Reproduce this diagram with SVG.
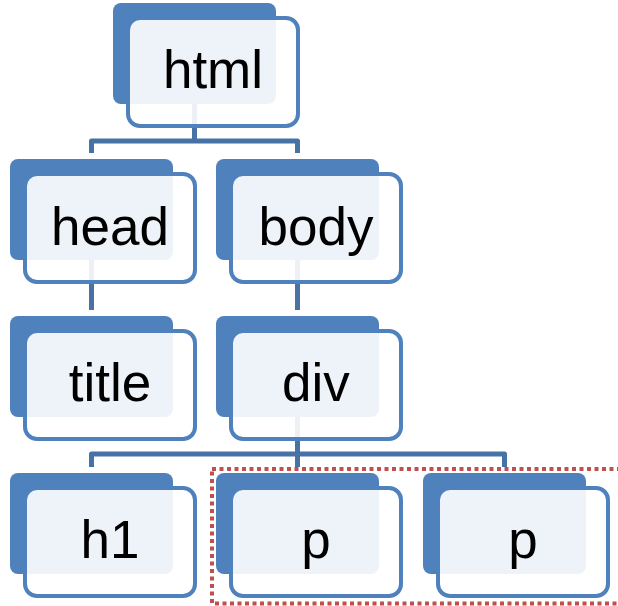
<svg xmlns="http://www.w3.org/2000/svg" width="618" height="606" viewBox="0 0 618 606">
<style>
.bg{fill:#FFFFFF}
.back{fill:#4F81BD}
.front{fill:#FFFFFF;fill-opacity:0.9;stroke:#4F81BD;stroke-width:4}
.t{font-family:"Liberation Sans",Arial,sans-serif;font-size:53px;fill:#000000;text-anchor:middle}
.conn{fill:none;stroke:#4672A5;stroke-width:5;stroke-linejoin:round}
.sel{fill:none;stroke:#C0504D;stroke-width:4;stroke-dasharray:4 3.5}
</style>
<rect class="bg" x="0" y="0" width="618" height="606"/>
<g id="connectors">
<path class="conn" d="M194.5,60 V141"/>
<path class="conn" d="M91.5,153 V141 H297.5 V153"/>
<path class="conn" d="M91.5,220 V310"/>
<path class="conn" d="M297.5,220 V310"/>
<path class="conn" d="M297.5,380 V467"/>
<path class="conn" d="M91.5,467 V454 H504.5 V467"/>
</g>
<g id="html" transform="translate(113,3)">
<rect class="back" x="0" y="0" width="163" height="101" rx="8"/>
<rect class="front" x="15" y="15" width="170" height="108" rx="12"/>
<text class="t" x="100" y="85">html</text>
</g>
<g id="head" transform="translate(10,159)">
<rect class="back" x="0" y="0" width="163" height="101" rx="8"/>
<rect class="front" x="15" y="15" width="170" height="108" rx="12"/>
<text class="t" x="100" y="86">head</text>
</g>
<g id="body" transform="translate(216,159)">
<rect class="back" x="0" y="0" width="163" height="101" rx="8"/>
<rect class="front" x="15" y="15" width="170" height="108" rx="12"/>
<text class="t" x="100" y="86">body</text>
</g>
<g id="title" transform="translate(10,316)">
<rect class="back" x="0" y="0" width="163" height="101" rx="8"/>
<rect class="front" x="15" y="15" width="170" height="108" rx="12"/>
<text class="t" x="100" y="85">title</text>
</g>
<g id="div" transform="translate(216,316)">
<rect class="back" x="0" y="0" width="163" height="101" rx="8"/>
<rect class="front" x="15" y="15" width="170" height="108" rx="12"/>
<text class="t" x="100" y="85">div</text>
</g>
<g id="h1" transform="translate(10,473)">
<rect class="back" x="0" y="0" width="163" height="101" rx="8"/>
<rect class="front" x="15" y="15" width="170" height="108" rx="12"/>
<text class="t" x="100" y="85">h1</text>
</g>
<g id="p1" transform="translate(216,473)">
<rect class="back" x="0" y="0" width="163" height="101" rx="8"/>
<rect class="front" x="15" y="15" width="170" height="108" rx="12"/>
<text class="t" x="100" y="85">p</text>
</g>
<g id="p2" transform="translate(423,473)">
<rect class="back" x="0" y="0" width="163" height="101" rx="8"/>
<rect class="front" x="15" y="15" width="170" height="108" rx="12"/>
<text class="t" x="100" y="85">p</text>
</g>
<rect id="selection" class="sel" x="212" y="469" width="420" height="134.5"/>
</svg>
